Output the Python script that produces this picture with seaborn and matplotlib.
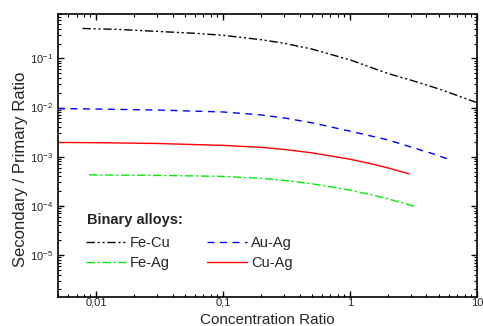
import matplotlib
matplotlib.use("Agg")
import matplotlib.pyplot as plt
import matplotlib.ticker as mticker
import seaborn as sns
import pandas as pd

# valeurs
fecu_x = [0.0078, 0.015, 0.03, 0.06, 0.1, 0.2, 0.3, 0.5, 1.0, 2.0, 3.0, 5.0, 10.0]
fecu_y = [0.407, 0.389, 0.355, 0.324, 0.295, 0.240, 0.204, 0.155, 0.0933,
          0.049, 0.0363, 0.024, 0.0126]

auag_x = [0.005, 0.01, 0.03, 0.1, 0.2, 0.3, 0.5, 1.0, 2.0, 3.0, 4.5, 6.1]
auag_y = [0.00955, 0.00933, 0.00891, 0.00813, 0.00708, 0.00617, 0.0049,
          0.00331, 0.00219, 0.00158, 0.00115, 0.00087]

cuag_x = [0.005, 0.01, 0.03, 0.1, 0.2, 0.3, 0.5, 1.0, 1.5, 2.0, 2.5, 2.92]
cuag_y = [0.00195, 0.00193, 0.00186, 0.0017, 0.00155, 0.00141, 0.0012,
          0.00089, 0.00071, 0.00059, 0.0005, 0.00045]

feag_x = [0.0088, 0.03, 0.1, 0.2, 0.3, 0.5, 1.0, 1.5, 2.0, 2.6, 3.3]
feag_y = [0.000427, 0.000417, 0.000398, 0.000363, 0.000331, 0.000282,
          0.000209, 0.000166, 0.000138, 0.000115, 0.0000955]

series = [
    ("Fe-Cu", fecu_x, fecu_y, "black", (0, (6, 2, 1.5, 2, 1.5, 2))),
    ("Au-Ag", auag_x, auag_y, "#0000ff", (0, (5, 4))),
    ("Fe-Ag", feag_x, feag_y, "#00ee00", (0, (6, 2, 1.5, 2))),
    ("Cu-Ag", cuag_x, cuag_y, "#ff0000", "-"),
]

sns.set_style("ticks")
plt.rcParams["font.family"] = ["Liberation Sans", "DejaVu Sans"]

fig = plt.figure(figsize=(4.83, 3.26), dpi=100)
ax = fig.add_axes([0.12, 0.089, 0.8676, 0.868])

lines = {}
for name, xs, ys, color, ls in series:
    df = pd.DataFrame({"x": xs, "y": ys})
    sns.lineplot(data=df, x="x", y="y", ax=ax, color=color, linewidth=1.0,
                 linestyle=ls, label=name, legend=False)
    lines[name] = ax.lines[-1]

ax.set_xscale("log")
ax.set_yscale("log")
ax.set_xlim(0.005, 10)
ax.set_ylim(1.4e-6, 0.8)

ax.xaxis.set_major_locator(mticker.FixedLocator([0.01, 0.1, 1, 10]))
ax.xaxis.set_major_formatter(mticker.FixedFormatter(["0,01", "0,1", "1", "10"]))
ax.xaxis.set_minor_locator(mticker.LogLocator(base=10, subs=range(2, 10), numticks=20))
ax.xaxis.set_minor_formatter(mticker.NullFormatter())
ax.yaxis.set_major_locator(mticker.FixedLocator([1e-5, 1e-4, 1e-3, 1e-2, 1e-1]))
ax.yaxis.set_minor_locator(mticker.LogLocator(base=10, subs=range(2, 10), numticks=20))
ax.yaxis.set_minor_formatter(mticker.NullFormatter())

ax.tick_params(which="both", direction="in", top=True, right=True, labelsize=8, color="black")
ax.tick_params(which="major", length=4, width=1)
ax.tick_params(which="minor", length=2, width=0.8)
ax.tick_params(axis="x", pad=0.5)
for sp in ax.spines.values():
    sp.set_linewidth(1.2)
    sp.set_color("black")

ax.set_xlabel("Concentration Ratio", fontsize=11)
ax.set_ylabel("Secondary / Primary Ratio", fontsize=12)
ax.xaxis.set_label_coords(0.5, -0.057, transform=ax.transAxes)
ax.xaxis.label.set_va("top")
ax.yaxis.set_label_coords(-0.072, 0.45)

# titre de la légende placé à part pour régler l'écart
ax.text(0.069, 0.272, "Binary alloys:", transform=ax.transAxes, fontsize=10.5,
        fontweight="bold", ha="left", va="center")

handles = [lines["Fe-Cu"], lines["Fe-Ag"], lines["Au-Ag"], lines["Cu-Ag"]]
labels = ["Fe-Cu", "Fe-Ag", "Au-Ag", "Cu-Ag"]
leg = ax.legend(handles, labels, ncol=2, frameon=False, fontsize=10.5,
                loc="lower left", bbox_to_anchor=(0.05, 0.069),
                borderpad=0, handlelength=2.75, handletextpad=0.25, columnspacing=2.5,
                labelspacing=0.4)

fig.savefig("out.png", dpi=100)
